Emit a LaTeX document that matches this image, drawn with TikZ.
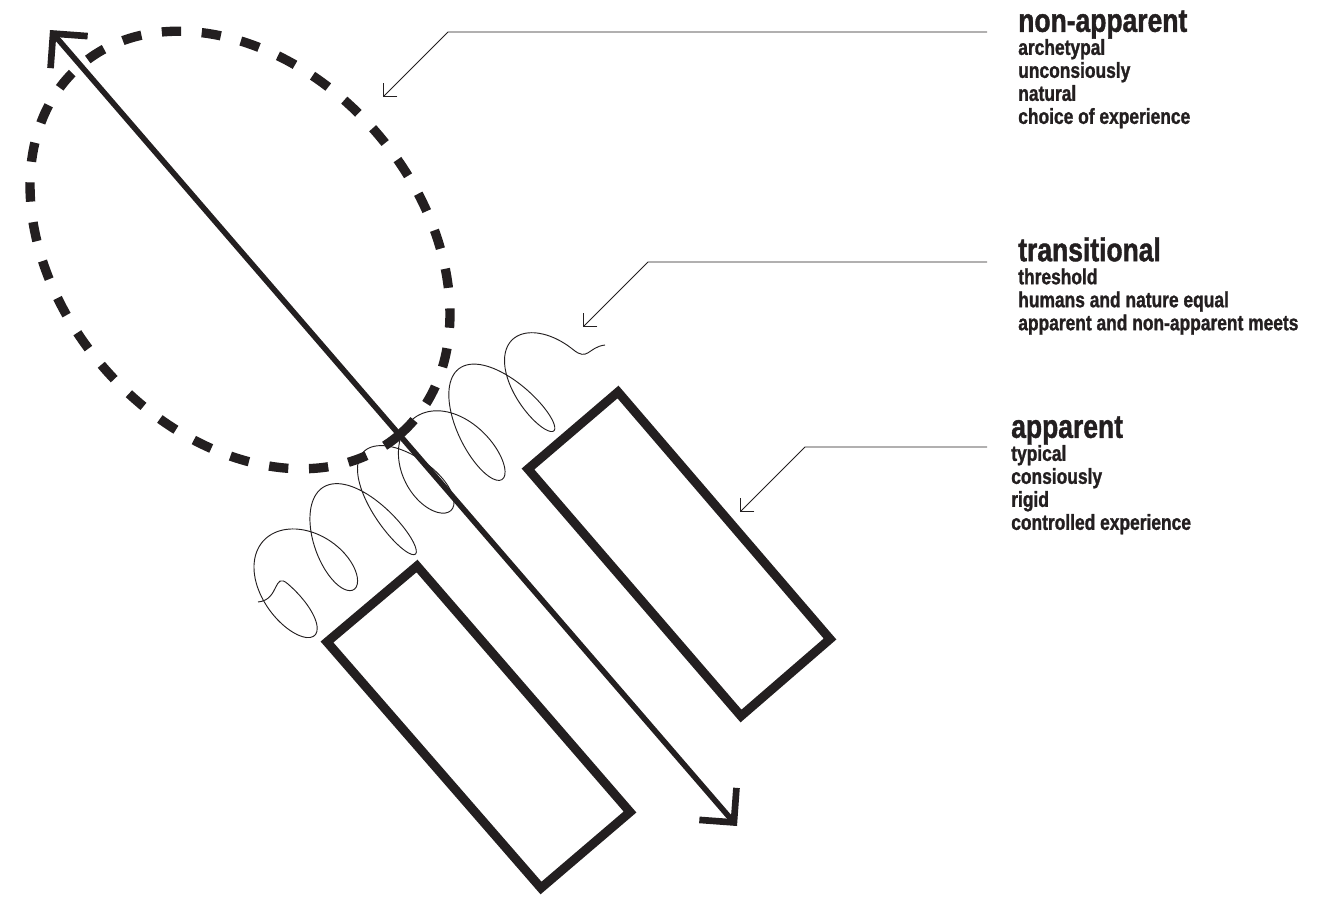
\documentclass[tikz,border=0pt]{standalone}
\usepackage{fontspec}
\setmainfont{Liberation Sans}[FakeStretch=0.8,BoldFeatures={FakeBold=1.2}]
\usepackage{tikz}
\usetikzlibrary{arrows.meta}
\definecolor{ink}{HTML}{231F20}
\newcommand{\tightlines}{\lineskiplimit=-20pt\relax}

\begin{document}
\begin{tikzpicture}[
    x=0.75pt, y=-0.75pt,
    slab/.style={
        draw=ink,
        line width=6.75pt,
        line join=miter
    },
    aura/.style={
        draw=ink,
        line width=7pt,
        dash pattern=on 14.5pt off 15.5pt
    },
    passage/.style={
        draw=ink,
        line width=4.2pt,
        {Straight Barb[sharp,angle=90:26pt,line width=5pt]}-{Straight Barb[sharp,angle=90:26pt,line width=5pt]}
    },
    coil/.style={
        draw=ink,
        line width=0.7pt
    },
    leader/.style={
        draw=ink,
        line width=0.7pt,
        -{Straight Barb[sharp,angle=90:10.5pt]}
    },
    tag/.style={
        anchor=north west,
        inner sep=0pt,
        align=left,
        text=ink,
        font=\bfseries\fontsize{16.3}{17.25}\selectfont\tightlines
    }
]
\useasboundingbox (0,0) rectangle (1323,896);

% threshold coil
\coordinate (coil-s) at (258,602);
\coordinate (coil-a) at (288,584);
\coordinate (coil-b) at (572.8,349.4);
\coordinate (coil-e) at (605,345);
\draw[coil] (coil-s) .. controls (280,600) and (273,571) .. (coil-a)
    -- plot[smooth,samples=260,domain=0:2160,variable=\t]
    ({288+0.772*(0.1708*\t+(26+5*sin(\t/3))*(cos(\t)-1))+0.636*(52+6*cos(\t/2.3))*sin(\t)},
     {584-0.636*(0.1708*\t+(26+5*sin(\t/3))*(cos(\t)-1))+0.772*(52+6*cos(\t/2.3))*sin(\t)})
    .. controls (588,362) and (588,347) .. (coil-e);

% dashed field
\draw[aura,rotate around={-49:(240,250)}] (240,250) ellipse [x radius=244, y radius=180];

% two slabs
\draw[slab] (618,392) -- (830,639) -- (741,716) -- (528,469) -- cycle;
\draw[slab] (417,566) -- (630,812) -- (541,888) -- (327,642) -- cycle;

% main passage
\coordinate (pass-s) at (50,30);
\coordinate (pass-e) at (737,826);
\draw[passage] (pass-s) -- (pass-e);

% labels
\node[tag] (nonapp) at (1018,10) {{\fontsize{24.8}{17.25}\selectfont non-apparent}\\archetypal\\unconsiously\\natural\\choice of experience};
\node[tag] (trans) at (1018,237) {{\fontsize{24.8}{17.25}\selectfont transitional}\\threshold\\humans and nature equal\\apparent and non-apparent meets};
\node[tag] (app) at (1011,416) {{\fontsize{24.8}{17.25}\selectfont apparent}\\typical\\consiously\\rigid\\controlled experience};

% leaders
\coordinate (na-a) at (987,32);
\coordinate (na-b) at (448,32);
\coordinate (na-c) at (383,97);
\coordinate (tr-a) at (987,262);
\coordinate (tr-b) at (648,262);
\coordinate (tr-c) at (583,327);
\coordinate (ap-a) at (987,447);
\coordinate (ap-b) at (805,447);
\coordinate (ap-c) at (740,512);
\draw[leader] (na-a) -- (na-b) -- (na-c);
\draw[leader] (tr-a) -- (tr-b) -- (tr-c);
\draw[leader] (ap-a) -- (ap-b) -- (ap-c);

\end{tikzpicture}
\end{document}
